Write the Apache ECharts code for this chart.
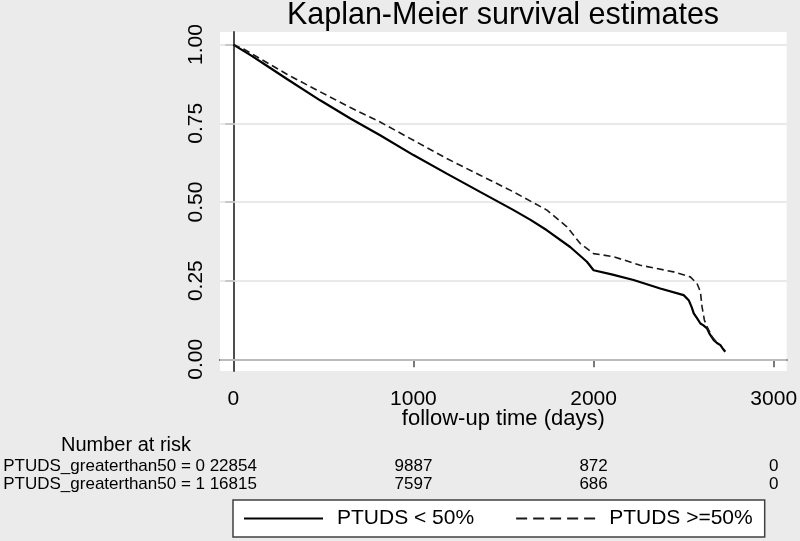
<!DOCTYPE html>
<html>
<head>
<meta charset="utf-8">
<title>Kaplan-Meier survival estimates</title>
<script src="https://cdn.jsdelivr.net/npm/echarts@6.0.0/dist/echarts.min.js"></script>
<style>
	html, body { margin: 0; padding: 0; background: #ebebeb; }
	#main { width: 800px; height: 541px; }
</style>
</head>
<body>
<div id="main"></div>
<script>
/*
 * 数据: 生存时间 (天) 与生存率
 */
var timeLow = [0, 100, 167, 300, 482, 650, 815, 1000, 1185, 1370, 1556, 1650, 1741, 1870, 1963, 2000,
	2100, 2222, 2370, 2500, 2528, 2545, 2556, 2575, 2593, 2610, 2630, 2645, 2667, 2685, 2704, 2720, 2731];
var survLow = [1.0, 0.965, 0.94, 0.89, 0.823, 0.765, 0.712, 0.649, 0.59, 0.532, 0.474, 0.443, 0.41, 0.357, 0.31, 0.283,
	0.27, 0.252, 0.225, 0.204, 0.188, 0.165, 0.146, 0.13, 0.114, 0.108, 0.098, 0.08, 0.061, 0.052, 0.045, 0.032, 0.024];

var timeHigh = [0, 60, 150, 300, 482, 650, 815, 1000, 1185, 1370, 1556, 1741, 1852, 1926, 2000, 2037,
	2111, 2259, 2444, 2537, 2574, 2593, 2602, 2615, 2630, 2660, 2690];
var survHigh = [1.0, 0.985, 0.955, 0.905, 0.85, 0.8, 0.754, 0.696, 0.638, 0.585, 0.532, 0.474, 0.421, 0.368, 0.336, 0.333,
	0.326, 0.299, 0.278, 0.262, 0.241, 0.215, 0.167, 0.125, 0.103, 0.07, 0.05];

var groupNames = ['PTUDS < 50%', 'PTUDS >=50%'];
var xTicks = [0, 1000, 2000, 3000];
var yTicks = [0, 0.25, 0.5, 0.75, 1];

// Number at risk
var riskRowNames = ['PTUDS_greaterthan50 = 0', 'PTUDS_greaterthan50 = 1'];
var riskLow = [22854, 9887, 872, 0];
var riskHigh = [16815, 7597, 686, 0];

var FONT = 'Liberation Sans, Arial, sans-serif';
var X_MIN = -73.8, X_MAX = 3072;
var Y_MIN = -0.037, Y_MAX = 1.04;

function toPairs(xs, ys) {
	var data = [];
	for (var i = 0; i < xs.length; i++) {
		data[i] = [xs[i], ys[i]];
	}
	return data;
}

// 风险人数行: 用一条隐藏的x轴画出
function riskAxis(counts, rowName, offset) {
	return {
		type : 'value',
		position : 'bottom',
		offset : offset,
		min : X_MIN,
		max : X_MAX,
		name : rowName,
		nameLocation : 'start',
		nameGap : 15,
		nameMoveOverlap : false,
		nameTextStyle : { fontFamily : FONT, fontSize : 17, color : '#000', align : 'right', verticalAlign : 'middle' },
		axisLine : { show : false },
		axisTick : { show : false },
		splitLine : { show : false },
		axisLabel : {
			customValues : xTicks,
			margin : 0,
			verticalAlign : 'middle',
			fontFamily : FONT,
			fontSize : 17,
			color : '#000',
			formatter : function(v) {
				return String(counts[xTicks.indexOf(v)]);
			}
		}
	};
}

var dom = document.getElementById('main');
var myChart = echarts.init(dom);

var axisColor = '#4d4d4d';

option = {
	animation : false,
	backgroundColor : '#ebebeb',
	title : [{
		text : 'Kaplan-Meier survival estimates',
		left : 503,
		top : 0,
		padding : 0,
		textAlign : 'center',
		textStyle : { fontFamily : FONT, fontSize : 30.5, fontWeight : 'normal', color : '#000' }
	}, {
		text : 'Number at risk',
		left : 61,
		top : 435,
		padding : 0,
		textStyle : { fontFamily : FONT, fontSize : 20, fontWeight : 'normal', color : '#000' }
	}],
	legend : {
		left : 233,
		top : 500,
		padding : [8, 12, 8, 10],
		itemWidth : 79,
		itemHeight : 14,
		itemGap : 41,
		selectedMode : false,
		backgroundColor : '#fff',
		borderColor : '#404040',
		borderWidth : 1.5,
		borderRadius : 0,
		// 图例里不要圆点
		itemStyle : { opacity : 0 },
		textStyle : { fontFamily : FONT, fontSize : 21, color : '#000', padding : [0, 0, 0, 9] },
		data : [
			{ name : groupNames[0] },
			{ name : groupNames[1], lineStyle : { type : [11, 6] } }
		]
	},
	grid : {
		left : 220,
		top : 32,
		right : 13.3,
		bottom : 170,
		show : true,
		backgroundColor : '#fff',
		borderWidth : 0,
		outerBoundsMode : 'none'
	},
	xAxis : [{
		type : 'value',
		min : X_MIN,
		max : X_MAX,
		name : 'follow-up time (days)',
		nameLocation : 'middle',
		nameGap : 37,
		nameMoveOverlap : false,
		nameTextStyle : { fontFamily : FONT, fontSize : 22, color : '#000' },
		axisLine : { show : true, lineStyle : { color : axisColor, width : 2 } },
		axisTick : { show : true, customValues : xTicks, length : 8, lineStyle : { color : axisColor, width : 1.5 } },
		axisLabel : {
			customValues : xTicks,
			margin : 18,
			fontFamily : FONT,
			fontSize : 21,
			color : '#000',
			formatter : function(v) {
				return String(v);
			}
		},
		splitLine : { show : false }
	},
	riskAxis(riskLow, riskRowNames[0], 95.7),
	riskAxis(riskHigh, riskRowNames[1], 113)],
	yAxis : {
		type : 'value',
		min : Y_MIN,
		max : Y_MAX,
		axisLine : { show : true, lineStyle : { color : axisColor, width : 2 } },
		axisTick : { show : true, customValues : yTicks, length : 8, lineStyle : { color : axisColor, width : 1.5 } },
		axisLabel : {
			customValues : yTicks,
			rotate : 90,
			margin : 13,
			fontFamily : FONT,
			fontSize : 21,
			color : '#000',
			formatter : function(v) {
				return v.toFixed(2);
			}
		},
		splitLine : { show : false }
	},
	series : [{
		name : groupNames[0],
		type : 'line',
		xAxisIndex : 0,
		symbol : 'none',
		z : 3,
		lineStyle : { color : '#000', width : 2.2, type : 'solid' },
		itemStyle : { color : '#000' },
		data : toPairs(timeLow, survLow),
		// 横向网格线
		markLine : {
			silent : true,
			z : 1,
			symbol : 'none',
			label : { show : false },
			lineStyle : { color : '#e2e2e2', width : 1.5, type : 'solid' },
			data : yTicks.map(function(v) { return { yAxis : v }; })
		}
	}, {
		name : groupNames[1],
		type : 'line',
		xAxisIndex : 0,
		symbol : 'none',
		z : 3,
		lineStyle : { color : '#1a1a1a', width : 1.6, type : [7, 4] },
		itemStyle : { color : '#1a1a1a' },
		data : toPairs(timeHigh, survHigh)
	}]
};
myChart.setOption(option);
</script>
</body>
</html>
